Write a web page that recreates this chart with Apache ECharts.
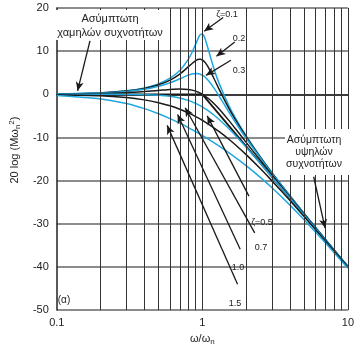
<!DOCTYPE html>
<html>
<head>
<meta charset="utf-8">
<script src="https://cdn.jsdelivr.net/npm/echarts@6/dist/echarts.min.js"></script>
<style>
  html, body { margin: 0; padding: 0; background: #fff; }
  #chart { width: 357px; height: 351px; }
</style>
</head>
<body>
<div id="chart"></div>
<script>
// frequency ratio u = ω/ωn
const freqs = [0.1, 0.2, 0.3, 0.4, 0.5, 0.6, 0.7, 0.8, 0.85, 0.9, 0.95, 0.97, 1.0, 1.02, 1.05, 1.1, 1.2, 1.3, 1.5, 1.7, 2, 2.5, 3, 4, 5, 7, 10];

// 20 log(M ωn^2) in dB, one list per damping ratio
const zeta01 = [0.09, 0.35, 0.80, 1.48, 2.42, 3.73, 5.53, 8.09, 9.75, 11.64, 13.41, 13.86, 13.98, 13.64, 12.63, 10.34, 6.00, 2.65, -2.18, -5.67, -9.62, -14.44, -18.09, -23.53, -27.61, -33.63, -39.91];
const zeta02 = [0.08, 0.33, 0.74, 1.36, 2.20, 3.30, 4.70, 6.35, 7.15, 7.81, 8.13, 8.12, 7.96, 7.74, 7.28, 6.24, 3.73, 1.27, -2.84, -6.06, -9.84, -14.56, -18.16, -23.57, -27.63, -33.64, -39.92];
const zeta03 = [0.07, 0.29, 0.65, 1.17, 1.85, 2.68, 3.60, 4.44, 4.72, 4.85, 4.76, 4.66, 4.44, 4.25, 3.90, 3.19, 1.48, -0.35, -3.75, -6.64, -10.19, -14.74, -18.28, -23.63, -27.67, -33.66, -39.93];
const zeta05 = [0.04, 0.17, 0.37, 0.63, 0.90, 1.14, 1.25, 1.14, 0.97, 0.73, 0.40, 0.25, 0, -0.18, -0.47, -0.98, -2.13, -3.36, -5.81, -8.10, -11.14, -15.29, -18.63, -23.82, -27.79, -33.72, -39.96];
const zeta07 = [0, 0, -0.02, -0.08, -0.22, -0.47, -0.87, -1.41, -1.74, -2.11, -2.50, -2.67, -2.92, -3.10, -3.37, -3.83, -4.79, -5.78, -7.76, -9.66, -12.26, -16.00, -19.12, -24.09, -27.96, -33.80, -40.00];
const zeta10 = [-0.09, -0.34, -0.75, -1.29, -1.94, -2.67, -3.46, -4.30, -4.72, -5.15, -5.59, -5.76, -6.02, -6.19, -6.46, -6.89, -7.75, -8.60, -10.24, -11.80, -13.98, -17.21, -20.00, -24.61, -28.30, -33.98, -40.09];
const zeta15 = [-0.29, -1.08, -2.14, -3.32, -4.49, -5.62, -6.69, -7.70, -8.18, -8.65, -9.10, -9.28, -9.54, -9.72, -9.97, -10.39, -11.19, -11.96, -13.39, -14.71, -16.53, -19.23, -21.61, -25.67, -29.04, -34.39, -40.29];

// asymptotes
const asymFreqs = [0.1, 1, 10];
const asymDb = [0, 0, -40];

// vertical grid lines of the log paper
const gridFreqs = [0.2, 0.3, 0.4, 0.5, 0.6, 0.7, 0.8, 0.9, 1, 2, 3, 4, 5, 6, 7, 8, 9, 10];

// arrows: [from, to] in (u, dB)
const arrows = [
  [[0.169, 12.4], [0.139, 0.8]],
  [[1.39, 17.8], [1.03, 14.6]],
  [[1.67, 12.1], [1.25, 8.8]],
  [[1.57, 7.9], [1.06, 4.4]],
  [[2.09, -23.6], [1.08, -5.0]],
  [[2.29, -32.1], [0.762, -3.1]],
  [[1.82, -35.9], [0.676, -4.7]],
  [[1.746, -44.0], [0.573, -7.2]],
  [[5.82, -19.1], [6.97, -31.0]]
];

const BLUE = '#1fa8e0';
const BLACK = '#1a1a1a';
const FONT = '"Liberation Sans", Arial, sans-serif';

const pair = (ys) => freqs.map((f, i) => [f, ys[i]]);

const curves = [
  { d: zeta01, c: BLUE },
  { d: zeta02, c: BLACK },
  { d: zeta03, c: BLUE },
  { d: zeta05, c: BLACK },
  { d: zeta07, c: BLUE },
  { d: zeta10, c: BLACK },
  { d: zeta15, c: BLUE }
];

const series = [
  {
    type: 'line',
    data: [],
    silent: true,
    z: 1,
    markLine: {
      silent: true,
      symbol: ['none', 'none'],
      label: { show: false },
      lineStyle: { color: '#333', width: 1, type: 'solid' },
      data: gridFreqs.map(v => ({ xAxis: v }))
    }
  },
  {
    type: 'line',
    data: asymFreqs.map((f, i) => [f, asymDb[i]]),
    showSymbol: false,
    lineStyle: { color: BLACK, width: 1.8 },
    z: 3
  }
];

curves.forEach(c => {
  series.push({
    type: 'line',
    data: pair(c.d),
    showSymbol: false,
    smooth: 0.25,
    lineStyle: { color: c.c, width: 1.5 },
    z: 4
  });
});

series.push({
  type: 'line',
  data: [],
  z: 20,
  markLine: {
    silent: true,
    symbol: ['none', 'arrow'],
    symbolSize: [6, 9],
    label: { show: false },
    lineStyle: { color: BLACK, width: 1.3, type: 'solid' },
    data: arrows.map(a => [{ coord: a[0] }, { coord: a[1] }])
  }
});

const txt = (x, y, text, size) => ({
  type: 'text', x: x, y: y, z: 60,
  style: { text: text, font: size + 'px ' + FONT, fill: '#222', align: 'center', verticalAlign: 'middle' }
});

const chart = echarts.init(document.getElementById('chart'));
chart.setOption({
  animation: false,
  grid: { left: 45, right: 3, top: 8, bottom: 31 },
  xAxis: {
    type: 'log',
    logBase: 10,
    min: 0.1,
    max: 10,
    name: 'ω/ω{s|n}',
    nameLocation: 'middle',
    nameGap: 18,
    nameTextStyle: {
      color: '#222', fontFamily: FONT, fontSize: 11,
      rich: { s: { fontSize: 8, fontFamily: FONT, color: '#222', padding: [7, 0, 0, 0] } }
    },
    axisLine: { show: true, lineStyle: { color: '#222', width: 1.5 } },
    axisTick: { show: false },
    axisLabel: { color: '#222', fontFamily: FONT, fontSize: 11, margin: 7 },
    splitLine: { show: false }
  },
  yAxis: {
    type: 'value',
    min: -50,
    max: 20,
    interval: 10,
    name: '20 log (Mω{s|n}{p|2})',
    nameLocation: 'middle',
    nameGap: 30,
    nameTextStyle: {
      color: '#222', fontFamily: FONT, fontSize: 11,
      padding: [0, 0, 0, 18],
      rich: {
        s: { fontSize: 8, fontFamily: FONT, color: '#222', padding: [6, 0, 0, 0] },
        p: { fontSize: 8, fontFamily: FONT, color: '#222', padding: [0, 0, 6, 0] }
      }
    },
    axisLine: { show: true, onZero: false, lineStyle: { color: '#222', width: 1.5 } },
    axisTick: { show: false },
    axisLabel: { color: '#222', fontFamily: FONT, fontSize: 11, margin: 8 },
    splitLine: { show: true, lineStyle: { color: '#666', width: 1.6 } }
  },
  graphic: [
    { type: 'rect', z: 50, shape: { x: 56, y: 10, width: 114, height: 30 }, style: { fill: '#fff' } },
    txt(110, 19, 'Ασύμπτωτη', 11),
    txt(110, 33, 'χαμηλών συχνοτήτων', 11),
    { type: 'rect', z: 50, shape: { x: 285, y: 129, width: 64, height: 46 }, style: { fill: '#fff' } },
    txt(314, 140, 'Ασύμπτωτη', 10.5),
    txt(314, 152, 'υψηλών', 10.5),
    txt(314, 164, 'συχνοτήτων', 10.5),
    txt(227, 15, 'ζ=0.1', 9),
    txt(239, 39, '0.2', 9),
    txt(239, 71, '0.3', 9),
    txt(262, 223, 'ζ=0.5', 9),
    txt(261, 248, '0.7', 9),
    txt(238, 268, '1.0', 9),
    txt(235, 304, '1.5', 9),
    txt(64, 300, '(α)', 10)
  ],
  series: series
});
</script>
</body>
</html>
